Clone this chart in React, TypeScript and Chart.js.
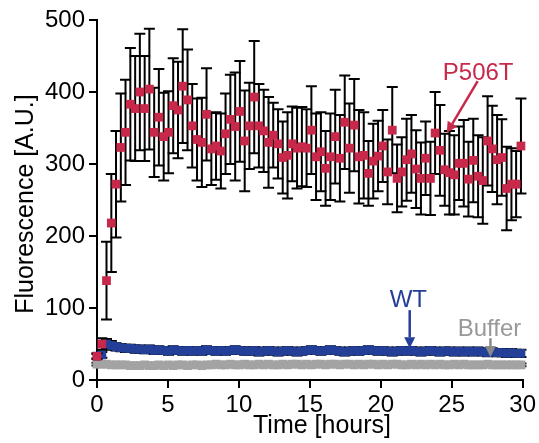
import { useEffect, useRef } from 'react';
import { Chart, registerables } from 'chart.js';

Chart.register(...registerables);

// Sampling times (hours)
const timeHours = [
  0, 0.34, 0.67, 1.01, 1.34, 1.68, 2.01, 2.35, 2.69, 3.02,
  3.36, 3.69, 4.03, 4.36, 4.70, 5.04, 5.37, 5.71, 6.04, 6.38,
  6.71, 7.05, 7.39, 7.72, 8.06, 8.39, 8.73, 9.06, 9.40, 9.74,
  10.07, 10.41, 10.74, 11.08, 11.41, 11.75, 12.09, 12.42, 12.76, 13.09,
  13.43, 13.76, 14.10, 14.44, 14.77, 15.11, 15.44, 15.78, 16.11, 16.45,
  16.79, 17.12, 17.46, 17.79, 18.13, 18.46, 18.80, 19.13, 19.47, 19.81,
  20.14, 20.48, 20.81, 21.15, 21.48, 21.82, 22.16, 22.49, 22.83, 23.16,
  23.50, 23.83, 24.17, 24.51, 24.84, 25.18, 25.51, 25.85, 26.18, 26.52,
  26.86, 27.19, 27.53, 27.86, 28.20, 28.53, 28.87, 29.21, 29.54, 29.88,
];

const p506tMean = [
  33, 50, 138, 218, 272, 323, 344, 383, 377, 400,
  377, 404, 344, 365, 338, 344, 381, 375, 408, 389,
  353, 334, 330, 369, 321, 325, 318, 342, 362, 352,
  373, 332, 353, 393, 353, 346, 330, 340, 328, 309,
  312, 328, 322, 324, 322, 347, 310, 317, 294, 310,
  338, 308, 358, 322, 354, 310, 312, 287, 304, 311,
  325, 289, 347, 280, 289, 306, 314, 293, 280, 308,
  280, 343, 319, 292, 288, 285, 301, 301, 279, 305,
  283, 277, 332, 321, 306, 309, 266, 272, 272, 325,
];

const p506tSD = [
  4, 8, 54, 68, 74, 75, 73, 78, 73, 81,
  73, 84, 62, 67, 61, 57, 66, 67, 79, 70,
  58, 57, 62, 64, 50, 47, 52, 56, 62, 75,
  70, 70, 60, 78, 58, 57, 63, 45, 48, 50,
  60, 52, 56, 55, 54, 61, 60, 55, 52, 60,
  65, 60, 65, 62, 64, 65, 60, 45, 52, 49,
  50, 45, 60, 47, 48, 57, 54, 54, 50, 51,
  51, 57, 63, 50, 58, 55, 51, 60, 52, 58,
  57, 60, 62, 60, 62, 53, 58, 50, 46, 66,
];

const wtMean = [
  33, 35, 50, 48, 46, 45, 44, 44, 43, 43,
  42, 43, 41, 42, 41, 40, 42, 41, 40, 41,
  40, 41, 40, 42, 41, 40, 41, 40, 41, 42,
  41, 40, 40, 41, 39, 40, 41, 40, 39, 40,
  41, 40, 39, 40, 41, 42, 41, 40, 41, 42,
  41, 40, 39, 40, 41, 40, 41, 42, 41, 40,
  41, 40, 39, 40, 41, 40, 41, 40, 39, 40,
  41, 40, 39, 40, 40, 39, 40, 39, 40, 39,
  40, 39, 38, 39, 38, 38, 37, 38, 37, 37,
];

const wtSD = [
  3, 4, 7, 6, 5, 5, 5, 5, 5, 5,
  5, 5, 5, 5, 5, 5, 5, 5, 5, 5,
  5, 5, 5, 5, 5, 5, 5, 5, 5, 5,
  5, 5, 5, 5, 5, 5, 5, 5, 5, 5,
  5, 5, 5, 5, 5, 5, 5, 5, 5, 5,
  5, 5, 5, 5, 5, 5, 5, 5, 5, 5,
  5, 5, 5, 5, 5, 5, 5, 5, 5, 5,
  5, 5, 5, 5, 5, 5, 5, 5, 5, 5,
  5, 5, 5, 5, 5, 5, 5, 5, 5, 5,
];

const bufferMean = [
  22, 22, 22, 21, 21, 21, 21, 20, 20, 20,
  21, 20, 20, 21, 20, 21, 20, 21, 21, 20,
  21, 21, 20, 21, 21, 22, 21, 21, 22, 21,
  21, 22, 21, 21, 22, 21, 22, 21, 21, 22,
  21, 22, 22, 21, 22, 21, 22, 22, 21, 22,
  22, 21, 22, 22, 21, 22, 21, 22, 22, 21,
  22, 21, 22, 22, 21, 21, 22, 21, 22, 21,
  22, 21, 22, 21, 21, 22, 21, 22, 21, 21,
  21, 21, 22, 21, 21, 21, 21, 21, 21, 21,
];

const bufferSD = [
  2, 2, 2, 2, 2, 2, 2, 2, 2, 2,
  2, 2, 2, 2, 2, 2, 2, 2, 2, 2,
  2, 2, 2, 2, 2, 2, 2, 2, 2, 2,
  2, 2, 2, 2, 2, 2, 2, 2, 2, 2,
  2, 2, 2, 2, 2, 2, 2, 2, 2, 2,
  2, 2, 2, 2, 2, 2, 2, 2, 2, 2,
  2, 2, 2, 2, 2, 2, 2, 2, 2, 2,
  2, 2, 2, 2, 2, 2, 2, 2, 2, 2,
  2, 2, 2, 2, 2, 2, 2, 2, 2, 2,
];

const seriesNames = ['P506T', 'WT', 'Buffer'];
const xTitle = 'Time [hours]';
const yTitle = 'Fluorescence [A.U.]';

const RED = '#c8294b';
const BLUE = '#233f98';
const GRAY = '#a3a3a3';
const GRAY_TEXT = '#999999';
const GRAY_ARROW = '#8a8a8a';
const FONT = '"Liberation Sans", Arial, Helvetica, sans-serif';

// Annotations in data coordinates
const noteLabels = [
  { text: 'P506T', x: 24.37, y: 416, color: RED },
  { text: 'WT', x: 20.63, y: 101, color: BLUE },
  { text: 'Buffer', x: 25.42, y: 61, color: GRAY_TEXT },
];
const noteArrows = [
  { x1: 26.83, y1: 415, x2: 24.65, y2: 343, color: RED },
  { x1: 22.04, y1: 97, x2: 22.04, y2: 44, color: BLUE },
  { x1: 27.73, y1: 58, x2: 27.73, y2: 32, color: GRAY_ARROW },
];

const errorBarPlugin = {
  id: 'errorBars',
  beforeDatasetDraw(chart: any, args: any) {
    const ds = chart.data.datasets[args.index];
    const errs: number[] | undefined = ds.errors;
    if (!errs) return;
    const yScale = chart.scales.y;
    const ctx = chart.ctx;
    ctx.save();
    ctx.strokeStyle = '#000000';
    ctx.lineWidth = 2;
    args.meta.data.forEach((pt: any, i: number) => {
      const v = ds.data[i].y;
      const e = errs[i];
      const x = pt.x;
      const yT = yScale.getPixelForValue(v + e);
      const yB = yScale.getPixelForValue(v - e);
      ctx.beginPath();
      ctx.moveTo(x, yT);
      ctx.lineTo(x, yB);
      ctx.moveTo(x - 5.5, yT);
      ctx.lineTo(x + 5.5, yT);
      ctx.moveTo(x - 5.5, yB);
      ctx.lineTo(x + 5.5, yB);
      ctx.stroke();
    });
    ctx.restore();
  },
};

const annotationPlugin = {
  id: 'annotations',
  afterDraw(chart: any) {
    const ctx = chart.ctx;
    const xs = chart.scales.x;
    const ys = chart.scales.y;
    ctx.save();
    // axis titles
    ctx.fillStyle = '#000000';
    ctx.font = `25px ${FONT}`;
    ctx.textAlign = 'center';
    ctx.textBaseline = 'alphabetic';
    ctx.fillText(xTitle, 322, 433);
    ctx.save();
    ctx.translate(33, 204);
    ctx.rotate(-Math.PI / 2);
    ctx.fillText(yTitle, 0, 0);
    ctx.restore();

    // labels
    ctx.font = `24px ${FONT}`;
    ctx.textAlign = 'left';
    noteLabels.forEach((l) => {
      ctx.fillStyle = l.color;
      ctx.fillText(l.text, xs.getPixelForValue(l.x), ys.getPixelForValue(l.y));
    });

    // arrows
    noteArrows.forEach((a) => {
      const x1 = xs.getPixelForValue(a.x1);
      const y1 = ys.getPixelForValue(a.y1);
      const x2 = xs.getPixelForValue(a.x2);
      const y2 = ys.getPixelForValue(a.y2);
      const ang = Math.atan2(y2 - y1, x2 - x1);
      const headLen = 11;
      const headHalf = 5.5;
      const bx = x2 - headLen * Math.cos(ang);
      const by = y2 - headLen * Math.sin(ang);
      ctx.strokeStyle = a.color;
      ctx.fillStyle = a.color;
      ctx.lineWidth = 2.5;
      ctx.beginPath();
      ctx.moveTo(x1, y1);
      ctx.lineTo(bx, by);
      ctx.stroke();
      ctx.beginPath();
      ctx.moveTo(x2, y2);
      ctx.lineTo(bx + headHalf * Math.sin(ang), by - headHalf * Math.cos(ang));
      ctx.lineTo(bx - headHalf * Math.sin(ang), by + headHalf * Math.cos(ang));
      ctx.closePath();
      ctx.fill();
    });
    ctx.restore();
  },
};

function toPoints(ys: number[]) {
  return ys.map((y, i) => ({ x: timeHours[i], y }));
}

export default function App() {
  const canvasRef = useRef<HTMLCanvasElement | null>(null);

  useEffect(() => {
    document.body.style.margin = '0';
    const canvas = canvasRef.current;
    if (!canvas) return;
    const pointCommon = {
      showLine: false,
      pointStyle: 'rect',
      pointRadius: 6.2,
      pointHoverRadius: 6.2,
      pointBorderWidth: 0,
      clip: false,
    };
    const chart = new Chart(canvas, {
      type: 'scatter',
      data: {
        datasets: [
          {
            label: seriesNames[0],
            data: toPoints(p506tMean),
            errors: p506tSD,
            backgroundColor: RED,
            borderColor: RED,
            ...pointCommon,
          } as any,
          {
            label: seriesNames[1],
            data: toPoints(wtMean),
            errors: wtSD,
            backgroundColor: BLUE,
            borderColor: BLUE,
            ...pointCommon,
          } as any,
          {
            label: seriesNames[2],
            data: toPoints(bufferMean),
            errors: bufferSD,
            backgroundColor: GRAY,
            borderColor: GRAY,
            ...pointCommon,
          } as any,
        ],
      },
      options: {
        animation: false,
        responsive: false,
        devicePixelRatio: 1,
        layout: { padding: { top: 20, right: 16, left: 0, bottom: 0 } },
        plugins: {
          legend: { display: false },
          tooltip: { enabled: false },
          title: { display: false },
        },
        scales: {
          x: {
            type: 'linear',
            min: 0,
            max: 30,
            afterFit: (s: any) => {
              s.height = 63;
            },
            ticks: {
              stepSize: 5,
              padding: 3,
              color: '#000000',
              font: { family: FONT, size: 24 },
              maxRotation: 0,
            },
            grid: {
              drawOnChartArea: false,
              drawTicks: true,
              tickLength: 8,
              color: '#000000',
              lineWidth: 2,
            },
            border: { display: true, color: '#000000', width: 2 },
          },
          y: {
            type: 'linear',
            min: 0,
            max: 500,
            afterFit: (s: any) => {
              s.width = 97;
            },
            ticks: {
              stepSize: 100,
              padding: 4,
              color: '#000000',
              font: { family: FONT, size: 24 },
            },
            grid: {
              drawOnChartArea: false,
              drawTicks: true,
              tickLength: 8,
              color: '#000000',
              lineWidth: 2,
            },
            border: { display: true, color: '#000000', width: 2 },
          },
        },
      } as any,
      plugins: [errorBarPlugin, annotationPlugin],
    });
    return () => {
      chart.destroy();
    };
  }, []);

  return (
    <div style={{ width: 539, height: 443 }}>
      <canvas ref={canvasRef} width={539} height={443} style={{ display: 'block' }} />
    </div>
  );
}
